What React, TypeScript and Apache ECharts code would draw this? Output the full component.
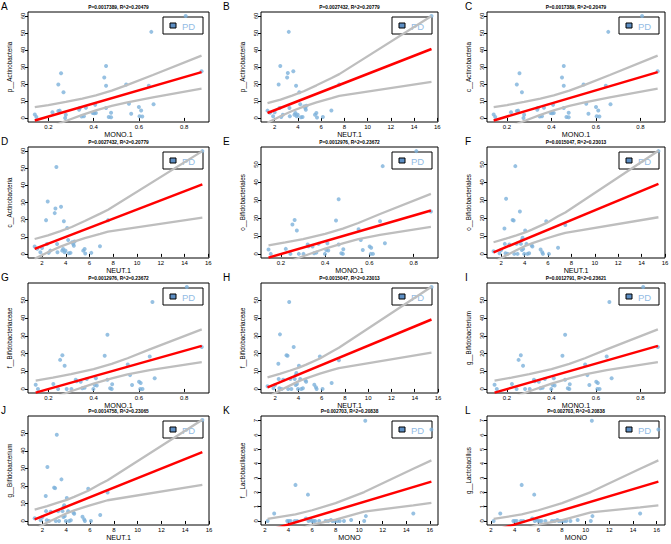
import React, { useEffect, useRef } from "react";
import * as echarts from "echarts";

// ---------- data ----------
const monoActino: [number, number][] = [
  [0.14, 2.0], [0.147, 0.6], [0.218, 3.3], [0.244, 4.1], [0.25, 4.3], [0.244, 19.7], [0.256, 26.3],
  [0.267, 15.1], [0.277, 1.9], [0.274, 0.0], [0.336, 4.8], [0.339, 5.8], [0.347, 0.8], [0.357, 1.0],
  [0.366, 6.0], [0.396, 2.9], [0.403, 2.7], [0.407, 7.7], [0.41, 2.9], [0.447, 23.8], [0.455, 30.6],
  [0.455, 19.0], [0.455, 5.8], [0.467, 0.6], [0.477, 3.1], [0.477, 0.4], [0.544, 19.7], [0.556, 8.3],
  [0.566, 2.5], [0.6, 6.4], [0.603, 1.0], [0.61, 4.4], [0.615, 0.8], [0.644, 19.0], [0.655, 50.7],
  [0.665, 8.1], [0.807, 60.0], [0.877, 27.5],
];
const monoActinoFit: [number, number][] = [[0.14, -1.5], [0.877, 27.0]];
const monoActinoUpper: [number, number][] = [
  [0.14, 6.4], [0.2, 7.6], [0.277, 9.4], [0.35, 11.4], [0.41, 13.3], [0.48, 16.1], [0.544, 19.2], [0.662, 25.3], [0.877, 36.7],
];
const monoActinoLower: [number, number][] = [
  [0.14, -9.4], [0.2, -6.0], [0.277, -1.8], [0.35, 1.8], [0.41, 4.5], [0.48, 7.1], [0.544, 9.0], [0.662, 12.1], [0.877, 17.3],
];

const neutActino: [number, number][] = [
  [1.38, 4.3], [1.6, 3.0], [1.86, 1.0], [2.0, 3.4], [2.34, 19.7], [2.42, 5.8], [2.48, 30.6], [2.56, 0.6],
  [2.7, 1.9], [3.07, 23.8], [3.13, 26.5], [3.21, 50.7], [3.27, 5.8], [3.3, 1.0], [3.6, 27.5], [3.7, 1.9],
  [3.78, 2.9], [3.84, 19.0], [3.9, 1.0], [3.98, 1.9], [4.12, 15.1], [4.2, 8.1], [4.26, 0.4], [4.4, 0.6],
  [4.54, 6.8], [4.63, 5.8], [4.68, 4.8], [4.74, 7.2], [5.47, 1.9], [5.59, 2.9], [5.64, 0.2], [6.15, 0.6],
  [6.88, 4.4], [7.56, 19.7], [15.5, 60.0],
];
const neutActinoFit: [number, number][] = [[1.38, 2.9], [15.5, 40.6]];
const neutActinoUpper: [number, number][] = [
  [1.38, 8.7], [2.5, 10.8], [3.5, 13.1], [4.5, 15.7], [5.6, 19.2], [6.9, 23.5], [7.56, 25.8], [15.5, 60.0],
];
const neutActinoLower: [number, number][] = [
  [1.38, -2.9], [2.5, 1.0], [3.5, 4.1], [4.5, 6.7], [5.6, 9.2], [6.9, 11.7], [7.56, 13.0], [15.5, 21.2],
];

const monoBifido: [number, number][] = [
  [0.144, 2.4], [0.154, 0.0], [0.222, 2.8], [0.243, 0.0], [0.252, 16.4], [0.262, 19.0], [0.272, 13.1],
  [0.281, 0.0], [0.302, 0.0], [0.321, 5.2], [0.325, 4.3], [0.343, 4.1], [0.35, 0.4], [0.36, 0.7],
  [0.37, 5.6], [0.399, 0.0], [0.405, 2.2], [0.414, 1.9], [0.41, 6.0], [0.449, 18.7], [0.461, 30.6],
  [0.461, 5.2], [0.473, 0.4], [0.48, 0.0], [0.482, 2.6], [0.551, 13.8], [0.561, 7.8], [0.57, 2.2],
  [0.601, 4.1], [0.608, 3.4], [0.606, 0.0], [0.616, 0.0], [0.648, 18.3], [0.66, 49.1], [0.67, 6.0],
  [0.812, 57.5], [0.878, 23.7],
];
const monoBifidoFit: [number, number][] = [[0.144, -2.1], [0.878, 24.3]];
const monoBifidoUpper: [number, number][] = [
  [0.144, 4.7], [0.22, 6.4], [0.3, 8.3], [0.4, 11.2], [0.48, 14.1], [0.55, 17.3], [0.648, 22.3], [0.878, 33.6],
];
const monoBifidoLower: [number, number][] = [
  [0.144, -8.9], [0.22, -5.2], [0.3, -1.3], [0.4, 3.0], [0.48, 5.9], [0.55, 8.2], [0.648, 10.6], [0.878, 15.1],
];

const neutBifido: [number, number][] = [
  [1.35, 1.5], [1.86, 0.4], [2.0, 2.2], [2.28, 14.2], [2.31, 5.6], [2.37, 0.4], [2.42, 30.8], [2.56, 0.0],
  [2.7, 5.2], [2.98, 19.0], [3.07, 18.7], [3.12, 0.0], [3.21, 49.1], [3.32, 5.6], [3.4, 0.0], [3.6, 23.7],
  [3.69, 5.6], [3.77, 7.8], [3.83, 9.0], [3.77, 2.2], [3.88, 2.8], [3.97, 0.0], [4.05, 13.1], [4.16, 5.6],
  [4.25, 0.0], [4.39, 0.4], [4.61, 4.7], [4.67, 4.1], [5.37, 2.4], [5.51, 0.9], [5.57, 0.0], [5.85, 18.3],
  [6.08, 0.0], [6.86, 3.4], [7.48, 16.2], [15.44, 57.5],
];
const neutBifidoFit: [number, number][] = [[1.35, 0.9], [15.44, 39.2]];
const neutBifidoUpper: [number, number][] = [
  [1.35, 6.5], [2.4, 8.5], [3.3, 10.4], [4.05, 12.0], [4.67, 13.7], [5.85, 17.2], [6.86, 21.0], [7.48, 23.2], [15.44, 57.7],
];
const neutBifidoLower: [number, number][] = [
  [1.35, -4.7], [2.4, -0.9], [3.3, 2.0], [4.05, 4.4], [4.67, 6.0], [5.85, 8.6], [6.86, 10.6], [7.48, 11.8], [15.44, 20.5],
];

const monoLacto: [number, number][] = [
  [2.22, 0.0], [2.78, 0.52], [3.89, 0.0], [4.03, 0.0], [4.17, 0.0], [4.53, 0.0], [4.59, 2.52], [4.73, 0.0],
  [5.48, 0.18], [5.65, 1.84], [5.7, 0.0], [5.84, 0.1], [5.98, 0.0], [6.12, 0.0], [6.26, 0.0], [6.6, 0.0],
  [7.15, 0.0], [7.37, 0.0], [7.6, 0.07], [7.73, 0.0], [7.93, 0.0], [8.15, 0.0], [8.35, 0.0], [8.71, 0.0],
  [9.32, 0.07], [10.43, 0.0], [10.52, 7.0], [10.57, 0.34], [14.6, 0.52], [16.14, 6.39],
];
const monoLactoFit: [number, number][] = [[2.22, -0.68], [16.14, 2.75]];
const monoLactoUpper: [number, number][] = [
  [2.22, 0.14], [4.59, 0.46], [6.0, 0.75], [8.0, 1.25], [10.43, 2.02], [14.6, 3.65], [16.14, 4.23],
];
const monoLactoLower: [number, number][] = [
  [2.22, -1.5], [4.59, -0.66], [6.0, -0.25], [8.0, 0.1], [10.43, 0.66], [14.6, 1.09], [16.14, 1.27],
];
const monoLactoLowerL: [number, number][] = [
  [2.22, -1.5], [4.59, -0.66], [6.0, -0.25], [8.0, 0.06], [10.43, 0.6], [14.6, 0.95], [16.14, 1.09],
];

// tick labels
const mono1Ticks = [0.2, 0.4, 0.6, 0.8];
const neutTicks = [2, 4, 6, 8, 10, 12, 14, 16];
const actinoTicks = [0, 10, 20, 30, 40, 50, 60];
const bifidoTicks = [0, 10, 20, 30, 40, 50];
const lactoTicks = [0, 1, 2, 3, 4, 5, 6, 7];

// panel texts
const panelLetters = ["A", "B", "C", "D", "E", "F", "G", "H", "I", "J", "K", "L"];
const panelTitles = [
  "P=0.0017389, R^2=0.20479",
  "P=0.0027432, R^2=0.20779",
  "P=0.0017389, R^2=0.20479",
  "P=0.0027432, R^2=0.20779",
  "P=0.0012976, R^2=0.23672",
  "P=0.0015047, R^2=0.23013",
  "P=0.0012976, R^2=0.23672",
  "P=0.0015047, R^2=0.23013",
  "P=0.0012791, R^2=0.23621",
  "P=0.0014758, R^2=0.23065",
  "P=0.002703, R^2=0.20838",
  "P=0.002703, R^2=0.20838",
];
const xNames = ["MONO.1", "NEUT.1", "MONO.1", "NEUT.1", "MONO.1", "NEUT.1", "MONO.1", "NEUT.1", "MONO.1", "NEUT.1", "MONO", "MONO"];
const yNames = [
  "p__Actinobacteria", "p__Actinobacteria", "c__Actinobacteria", "c__Actinobacteria",
  "o__Bifidobacteriales", "o__Bifidobacteriales", "f__Bifidobacteriaceae", "f__Bifidobacteriaceae",
  "g__Bifidobacterium", "g__Bifidobacterium", "f__Lactobacillaceae", "g__Lactobacillus",
];
const legendLabel = "PD";

// ---------- datasets ----------
const datasets = [
  { pts: monoActino, fit: monoActinoFit, up: monoActinoUpper, lo: monoActinoLower, xr: [0.11, 0.91], yr: [-2.4, 62.4], xt: mono1Ticks, yt: actinoTicks },
  { pts: neutActino, fit: neutActinoFit, up: neutActinoUpper, lo: neutActinoLower, xr: [0.82, 16.06], yr: [-2.4, 62.4], xt: neutTicks, yt: actinoTicks },
  { pts: monoBifido, fit: monoBifidoFit, up: monoBifidoUpper, lo: monoBifidoLower, xr: [0.11, 0.91], yr: [-2.3, 59.8], xt: mono1Ticks, yt: bifidoTicks },
  { pts: neutBifido, fit: neutBifidoFit, up: neutBifidoUpper, lo: neutBifidoLower, xr: [0.79, 16.0], yr: [-2.3, 59.8], xt: neutTicks, yt: bifidoTicks },
  { pts: monoLacto, fit: monoLactoFit, up: monoLactoUpper, lo: monoLactoLower, xr: [1.66, 16.7], yr: [-0.28, 7.33], xt: neutTicks, yt: lactoTicks },
  { pts: monoLacto, fit: monoLactoFit, up: monoLactoUpper, lo: monoLactoLowerL, xr: [1.66, 16.7], yr: [-0.28, 7.33], xt: neutTicks, yt: lactoTicks },
];
const panelDataset = [0, 1, 0, 1, 2, 3, 2, 3, 2, 3, 4, 5];

// ---------- layout ----------
const COL_LEFT = [28, 261, 487];
const COL_RIGHT = [209, 438, 665];
const ROW_TOP = [12, 147, 283, 416];
const ROW_BOTTOM = [122, 258, 393, 525];
const LETTER_X = [1, 223, 465];

const FONT = "Liberation Sans, Arial, Helvetica, sans-serif";
const POINT_COLOR = "#7DB1DB";
const BAND_COLOR = "#BEBEBE";
const FIT_COLOR = "#FF0000";

function buildOption() {
  const grid: any[] = [];
  const xAxis: any[] = [];
  const yAxis: any[] = [];
  const series: any[] = [];
  const graphic: any[] = [];

  for (let i = 0; i < 12; i++) {
    const r = Math.floor(i / 3);
    const c = i % 3;
    const left = COL_LEFT[c];
    const right = COL_RIGHT[c];
    const top = ROW_TOP[r];
    const bottom = ROW_BOTTOM[r];
    const ds = datasets[panelDataset[i]];

    grid.push({
      left, top, width: right - left, height: bottom - top,
      show: true, borderColor: "#000", borderWidth: 1, backgroundColor: "transparent",
      containLabel: false, outerBoundsMode: "none",
    });
    xAxis.push({
      type: "value", gridIndex: i, min: ds.xr[0], max: ds.xr[1],
      axisLine: { show: false },
      axisTick: { show: true, length: 3, lineStyle: { color: "#000", width: 1 }, customValues: ds.xt },
      axisLabel: { customValues: ds.xt, fontSize: 6, margin: 2, color: "#000", fontFamily: FONT },
      splitLine: { show: false },
      name: xNames[i], nameLocation: "middle", nameGap: 8,
      nameTextStyle: { fontSize: 7.2, color: "#000", fontFamily: FONT },
    });
    yAxis.push({
      type: "value", gridIndex: i, min: ds.yr[0], max: ds.yr[1],
      axisLine: { show: false },
      axisTick: { show: true, length: 3, lineStyle: { color: "#000", width: 1 }, customValues: ds.yt },
      axisLabel: { customValues: ds.yt, fontSize: 5.8, margin: 2, rotate: 90, color: "#000", fontFamily: FONT },
      splitLine: { show: false },
      name: yNames[i], nameLocation: "middle", nameGap: 16, nameRotate: 90,
      nameTextStyle: { fontSize: 6.3, color: "#000", fontFamily: FONT },
    });

    series.push({
      type: "scatter", xAxisIndex: i, yAxisIndex: i, data: ds.pts, symbolSize: 4,
      itemStyle: { color: POINT_COLOR }, z: 2, silent: true,
    });
    series.push({
      type: "line", xAxisIndex: i, yAxisIndex: i, data: ds.up, showSymbol: false, symbol: "none",
      lineStyle: { color: BAND_COLOR, width: 2.3 }, clip: true, z: 3, silent: true,
    });
    series.push({
      type: "line", xAxisIndex: i, yAxisIndex: i, data: ds.lo, showSymbol: false, symbol: "none",
      lineStyle: { color: BAND_COLOR, width: 2.3 }, clip: true, z: 3, silent: true,
    });
    series.push({
      type: "line", xAxisIndex: i, yAxisIndex: i, data: ds.fit, showSymbol: false, symbol: "none",
      lineStyle: { color: FIT_COLOR, width: 2.5 }, clip: true, z: 4, silent: true,
    });

    // panel letter
    graphic.push({
      type: "text", left: LETTER_X[c], top: top - 11,
      style: { text: panelLetters[i], fontSize: 10, fill: "#000", fontFamily: FONT },
    });
    // title
    graphic.push({
      type: "text", x: (left + right) / 2, y: top - 5,
      style: {
        text: panelTitles[i], fontSize: 4.8, fontWeight: "bold", fill: "#000", fontFamily: FONT,
        align: "center", verticalAlign: "middle",
      },
    });
    // legend
    const lw = 40;
    const lh = 17;
    const lx = right - 6 - lw;
    const ly = top + 5;
    graphic.push({
      type: "group", x: lx, y: ly, z: 10,
      children: [
        { type: "rect", shape: { x: 0, y: 0, width: lw, height: lh }, style: { fill: "#fff", stroke: "#000", lineWidth: 1 } },
        { type: "rect", shape: { x: 7, y: 6, width: 6, height: 5 }, style: { fill: "#5E8FC4", stroke: "#000", lineWidth: 1 } },
        {
          type: "text", x: 19, y: lh / 2 + 0.5,
          style: { text: legendLabel, fontSize: 9.5, fill: "#93BCE4", fontFamily: FONT, verticalAlign: "middle" },
        },
      ],
    });
  }

  return {
    animation: false,
    backgroundColor: "#fff",
    grid, xAxis, yAxis, series, graphic,
  };
}

export default function App() {
  const ref = useRef<HTMLDivElement>(null);
  useEffect(() => {
    document.body.style.margin = "0";
    if (!ref.current) return;
    const chart = echarts.init(ref.current, undefined, { renderer: "svg" });
    chart.setOption(buildOption() as any);
    return () => chart.dispose();
  }, []);
  return <div ref={ref} style={{ width: 671, height: 544 }} />;
}
